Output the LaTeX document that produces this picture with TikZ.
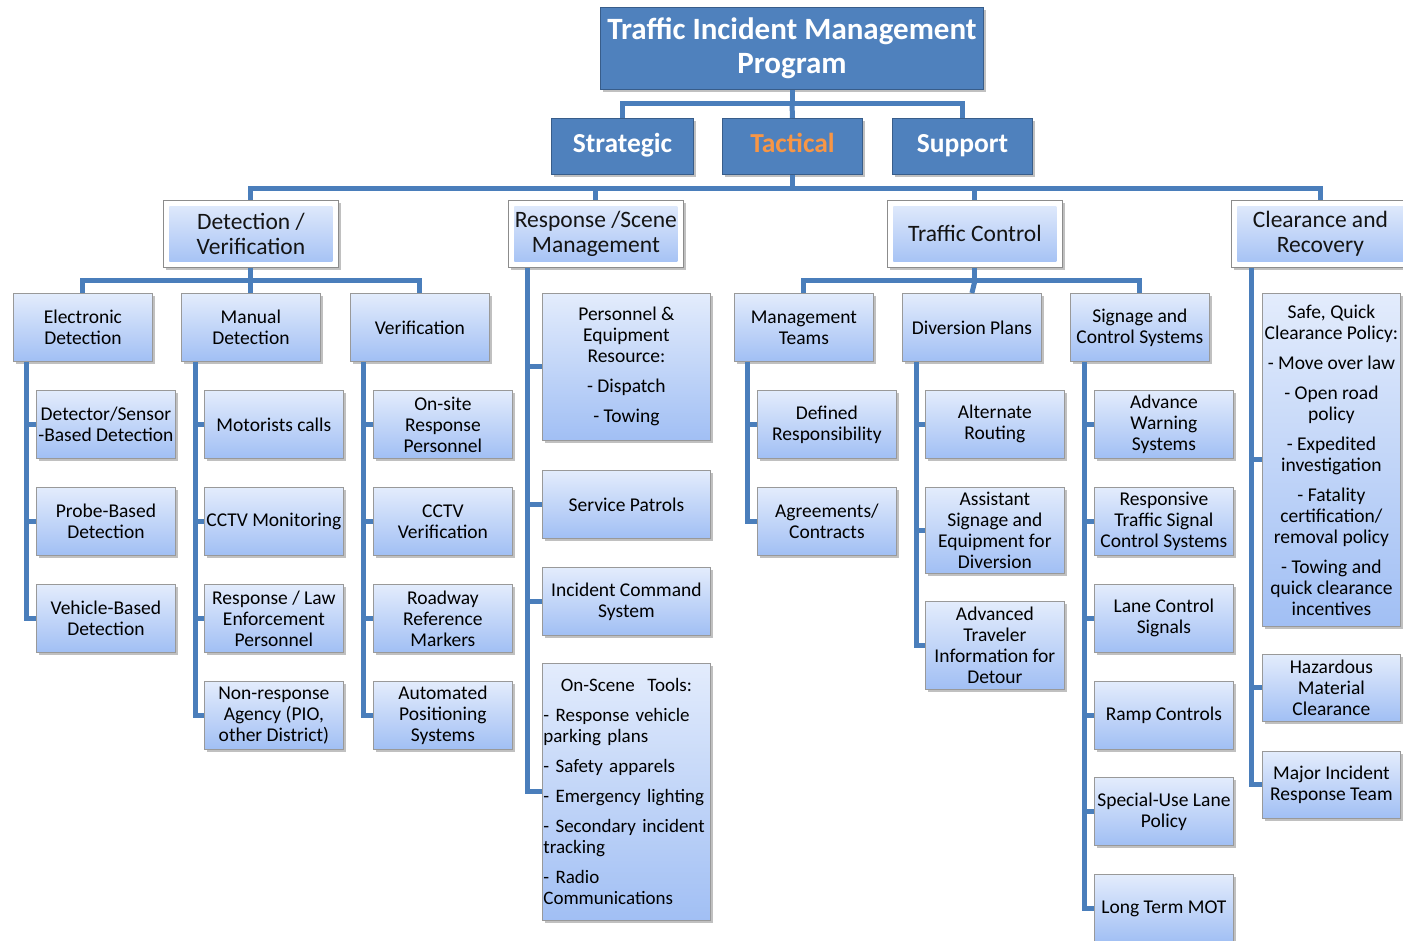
\documentclass[tikz,border=0pt]{standalone}
\usepackage{fontspec}
\setmainfont{Carlito}
\usetikzlibrary{shadows,calc}
\definecolor{connc}{HTML}{4A7EBB}
\definecolor{hblue}{HTML}{4F81BD}
\definecolor{hborder}{HTML}{385D8A}
\definecolor{gtop}{HTML}{E3ECFC}
\definecolor{gbot}{HTML}{A1BFF4}
\definecolor{leafborder}{HTML}{999999}
\definecolor{catborder}{HTML}{8C8C8C}
\definecolor{tacorange}{HTML}{F79646}
\begin{document}
\begin{tikzpicture}[x=1pt,y=-1pt,
  conn/.style={draw=connc, line width=5pt, line join=miter},
  myshadow/.style={drop shadow={shadow xshift=2.5pt, shadow yshift=-2.5pt, opacity=0.45, fill=black!55}},
  head/.style={draw=hborder, line width=1pt, fill=hblue, text=white, myshadow, anchor=north west,
    align=center, inner xsep=1pt, font=\bfseries\fontsize{31}{34}\selectfont},
  sub/.style={draw=hborder, line width=1pt, fill=hblue, text=white, myshadow, anchor=north west,
    minimum width=140pt, minimum height=56pt, align=center, text height=19pt, text depth=6pt,
    font=\bfseries\fontsize{27.5}{30}\selectfont},
  cat/.style={draw=catborder, line width=0.8pt, fill=white, myshadow, anchor=north west,
    minimum width=175pt, minimum height=67pt, align=center, inner xsep=1pt, text=black!92,
    font=\fontsize{23.5}{25}\selectfont,
    path picture={\shade[top color=gtop,bottom color=gbot]
      ([shift={(6pt,6pt)}]path picture bounding box.south west) rectangle
      ([shift={(-6pt,-6pt)}]path picture bounding box.north east);}},
  leaf/.style={draw=leafborder, line width=0.8pt, top color=gtop, bottom color=gbot, myshadow,
    anchor=north west, minimum width=139pt, minimum height=68pt, align=center,
    inner xsep=0.5pt, inner ysep=1pt, text=black, font=\fontsize{19.5}{21}\selectfont}
]
\useasboundingbox (0,0) rectangle (1403,941);

% level 0 and 1
\node[head, minimum width=383pt, minimum height=82pt] (tim) at (600,7) {Traffic Incident Management\\Program};
\node[sub, minimum width=142pt] (str) at (551,118) {Strategic};
\node[sub, text=tacorange] (tac) at (722,118) {Tactical};
\node[sub] (sup) at (892,118) {Support};

% level 2
\node[cat] (det) at (163,200) {Detection /\\Verification};
\node[cat] (rsm) at (508,200) {Response /Scene\\Management};
\node[cat] (tc) at (887,200) {Traffic Control};
\node[cat, minimum width=178pt] (cr) at (1231,200) {Clearance and\\Recovery};

% Detection / Verification
\node[leaf] (ele) at (13,293) {Electronic\\Detection};
\node[leaf] (man) at (181,293) {Manual\\Detection};
\node[leaf] (vrf) at (350,293) {Verification};
\node[leaf] (dsb) at (36,390) {Detector/Sensor\\-Based Detection};
\node[leaf] (pbd) at (36,487) {Probe-Based\\Detection};
\node[leaf] (vbd) at (36,584) {Vehicle-Based\\Detection};
\node[leaf] (mcl) at (204,390) {Motorists calls};
\node[leaf] (cmo) at (204,487) {CCTV Monitoring};
\node[leaf] (rle) at (204,584) {Response / Law\\Enforcement\\Personnel};
\node[leaf] (nra) at (204,681) {Non-response\\Agency (PIO,\\other District)};
\node[leaf] (osr) at (373,390) {On-site\\Response\\Personnel};
\node[leaf] (cve) at (373,487) {CCTV\\Verification};
\node[leaf] (rrm) at (373,584) {Roadway\\Reference\\Markers};
\node[leaf] (aps) at (373,681) {Automated\\Positioning\\Systems};

% Response / Scene Management
\node[leaf, minimum width=168pt, minimum height=147pt] (pe) at (542,293)
  {Personnel \&\\Equipment\\Resource:\\[9pt]- Dispatch\\[9pt]- Towing};
\node[leaf, minimum width=168pt] (spa) at (542,470) {Service Patrols};
\node[leaf, minimum width=168pt] (ics) at (542,567) {Incident Command\\System};
\node[leaf, minimum width=168pt, minimum height=257pt, text width=166pt, inner xsep=1pt, align=left,
  font=\fontsize{19}{21}\selectfont] (ost) at (542,663)
  {\makebox[\linewidth][c]{On-Scene~ Tools:}\\[9pt]\mbox{- Response vehicle}\\parking plans\\[9pt]- Safety apparels\\[9pt]\mbox{- Emergency lighting}\\[9pt]\mbox{- Secondary incident}\\tracking\\[9pt]- Radio\\Communications};

% Traffic Control
\node[leaf] (mt) at (734,293) {Management\\Teams};
\node[leaf] (dp) at (902,293) {Diversion Plans};
\node[leaf] (sc) at (1070,293) {Signage and\\Control Systems};
\node[leaf] (dre) at (757,390) {Defined\\Responsibility};
\node[leaf] (agc) at (757,487) {Agreements/\\Contracts};
\node[leaf] (alr) at (925,390) {Alternate\\Routing};
\node[leaf, minimum height=86pt] (ase) at (925,487) {Assistant\\Signage and\\Equipment for\\Diversion};
\node[leaf, minimum height=88pt] (ati) at (925,601) {Advanced\\Traveler\\Information for\\Detour};
\node[leaf] (aws) at (1094,390) {Advance\\Warning\\Systems};
\node[leaf] (rts) at (1094,487) {Responsive\\Traffic Signal\\Control Systems};
\node[leaf] (lcs) at (1094,584) {Lane Control\\Signals};
\node[leaf] (rco) at (1094,681) {Ramp Controls};
\node[leaf] (sul) at (1094,777) {Special-Use Lane\\Policy};
\node[leaf] (ltm) at (1094,874) {Long Term MOT};

% Clearance and Recovery
\node[leaf, minimum width=138pt, minimum height=333pt] (sqc) at (1262,293)
  {Safe, Quick\\Clearance Policy:\\[9pt]- Move over law\\[9pt]- Open road\\policy\\[9pt]- Expedited\\investigation\\[9pt]- Fatality\\certification/\\removal policy\\[9pt]- Towing and\\quick clearance\\incentives};
\node[leaf, minimum width=138pt, minimum height=67pt] (hmc) at (1262,654) {Hazardous\\Material\\Clearance};
\node[leaf, minimum width=138pt, minimum height=67pt] (mir) at (1262,751) {Major Incident\\Response Team};

% buses
\coordinate (b1) at ($(tim.south)+(0,14)$);
\coordinate (b2) at ($(tac.south)+(0,14)$);
\coordinate (b3) at ($(det.south)+(0,13)$);
\coordinate (b4) at ($(tc.south)+(0,13)$);
\coordinate (eleL) at ([xshift=13pt]ele.south west);
\coordinate (manL) at ([xshift=14pt]man.south west);
\coordinate (vrfL) at ([xshift=13pt]vrf.south west);
\coordinate (rsmL) at ([xshift=19pt]rsm.south west);
\coordinate (mtL) at ([xshift=13pt]mt.south west);
\coordinate (dpL) at ([xshift=14pt]dp.south west);
\coordinate (scL) at ([xshift=14pt]sc.south west);
\coordinate (crL) at ([xshift=20pt]cr.south west);

\draw[conn] (tim.south) -- (b1);
\draw[conn] (str.north) |- (b1) -| (sup.north);
\draw[conn] (b1) -- (tac.north);
\draw[conn] (tac.south) -- (b2);
\draw[conn] (det.north) |- (b2) -| (cr.north);
\draw[conn] (rsm.north) |- (b2);
\draw[conn] (tc.north) |- (b2);

\draw[conn] (det.south) -- (b3);
\draw[conn] (ele.north) |- (b3) -| (vrf.north);
\draw[conn] (b3) -- (man.north);
\draw[conn] (tc.south) -- (b4);
\draw[conn] (mt.north) |- (b4) -| (sc.north);
\draw[conn] (b4) -- (dp.north);

% vertical spines
\draw[conn] (eleL) |- (vbd.west);
\draw[conn] (dsb.west) -- (dsb.west -| eleL);
\draw[conn] (pbd.west) -- (pbd.west -| eleL);
\draw[conn] (manL) |- (nra.west);
\draw[conn] (mcl.west) -- (mcl.west -| manL);
\draw[conn] (cmo.west) -- (cmo.west -| manL);
\draw[conn] (rle.west) -- (rle.west -| manL);
\draw[conn] (vrfL) |- (aps.west);
\draw[conn] (osr.west) -- (osr.west -| vrfL);
\draw[conn] (cve.west) -- (cve.west -| vrfL);
\draw[conn] (rrm.west) -- (rrm.west -| vrfL);
\draw[conn] (rsmL) |- (ost.west);
\draw[conn] (pe.west) -- (pe.west -| rsmL);
\draw[conn] (spa.west) -- (spa.west -| rsmL);
\draw[conn] (ics.west) -- (ics.west -| rsmL);
\draw[conn] (mtL) |- (agc.west);
\draw[conn] (dre.west) -- (dre.west -| mtL);
\draw[conn] (dpL) |- (ati.west);
\draw[conn] (alr.west) -- (alr.west -| dpL);
\draw[conn] (ase.west) -- (ase.west -| dpL);
\draw[conn] (scL) |- (ltm.west);
\draw[conn] (aws.west) -- (aws.west -| scL);
\draw[conn] (rts.west) -- (rts.west -| scL);
\draw[conn] (lcs.west) -- (lcs.west -| scL);
\draw[conn] (rco.west) -- (rco.west -| scL);
\draw[conn] (sul.west) -- (sul.west -| scL);
\draw[conn] (crL) |- (mir.west);
\draw[conn] (sqc.west) -- (sqc.west -| crL);
\draw[conn] (hmc.west) -- (hmc.west -| crL);
\end{tikzpicture}
\end{document}
